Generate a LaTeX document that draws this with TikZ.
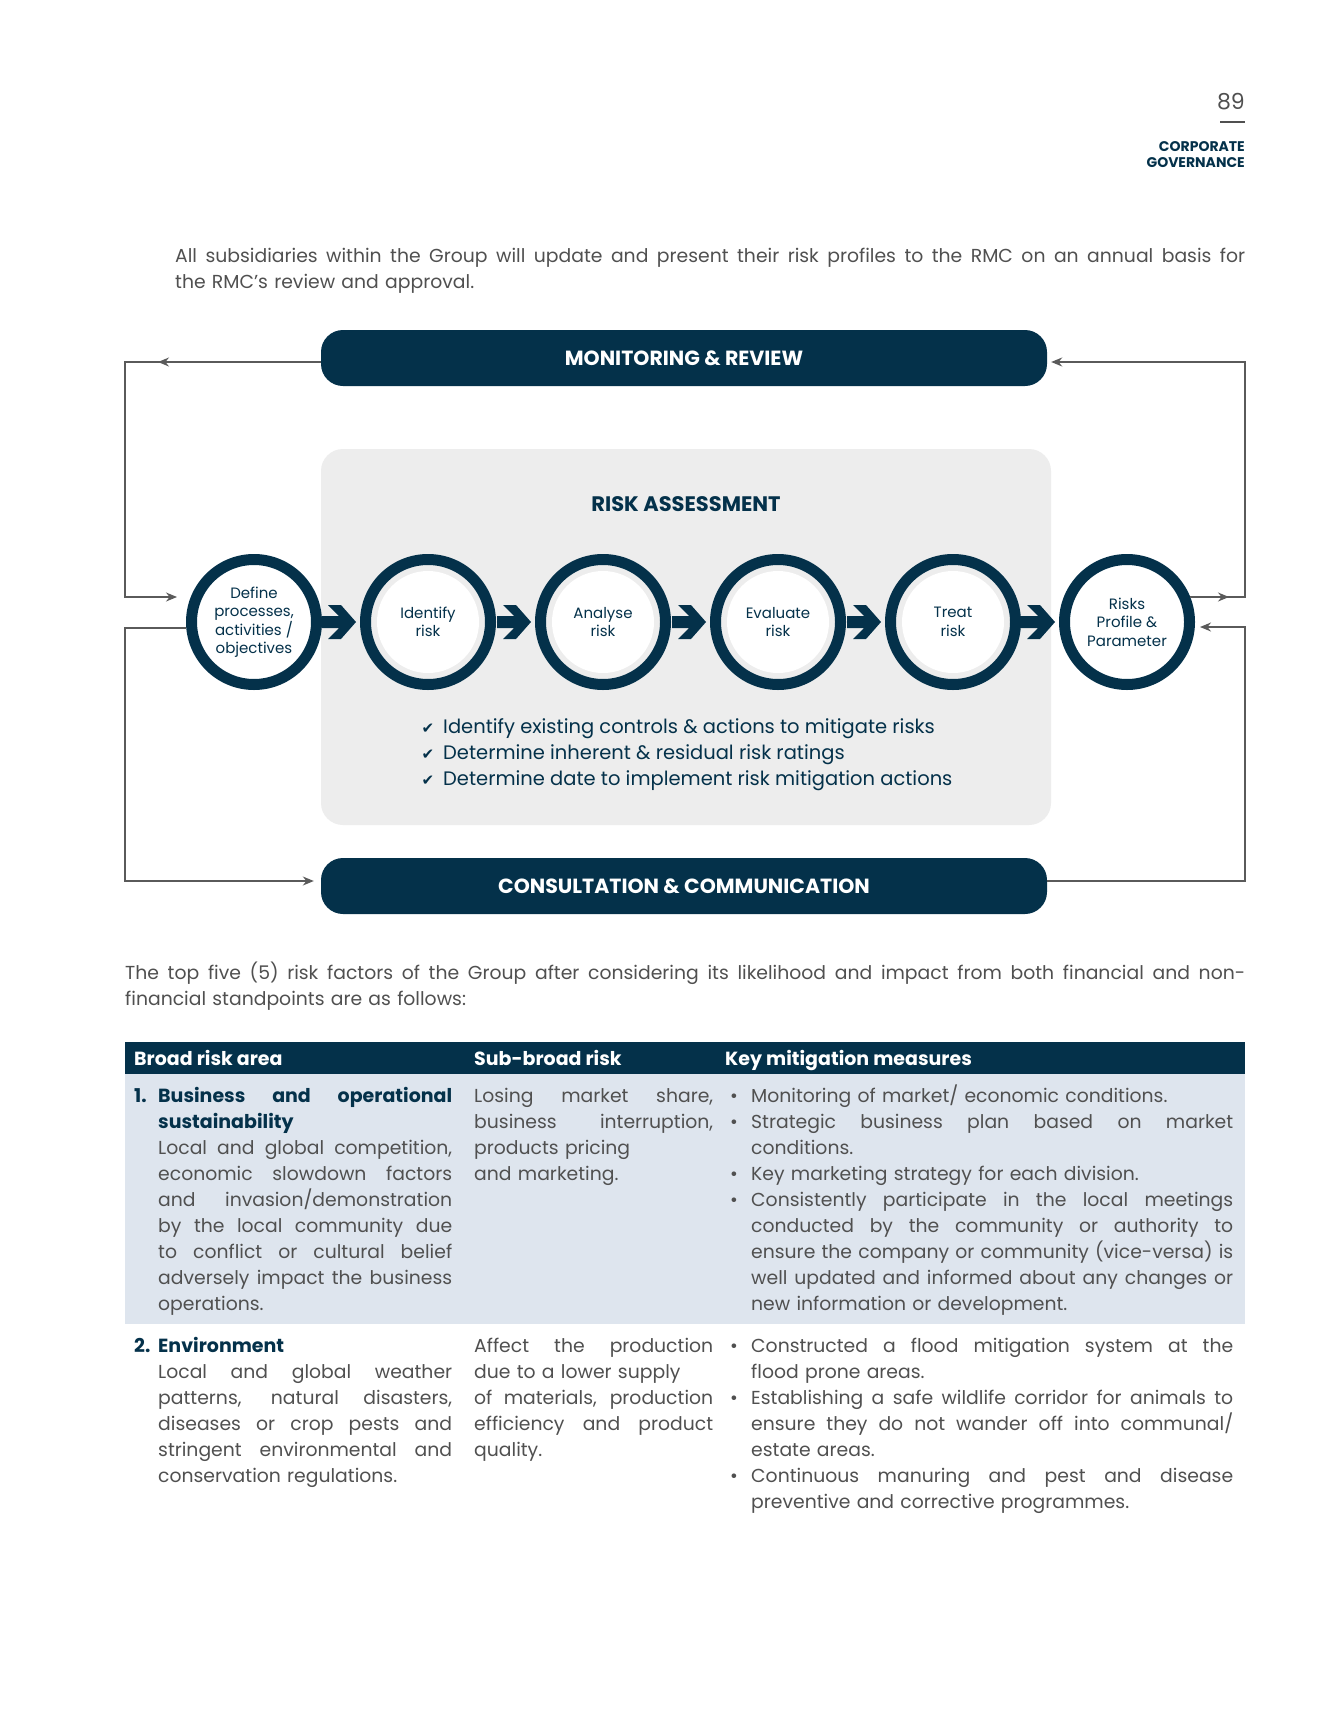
\documentclass[tikz,border=0pt]{standalone}
\usepackage{fontspec}
\setmainfont{Poppins}
\newfontfamily\symf{DejaVu Sans}
\usetikzlibrary{arrows.meta,calc}
\definecolor{navy}{HTML}{04314A}
\definecolor{txt}{HTML}{505050}
\definecolor{boxgray}{HTML}{EDEDED}
\definecolor{rowblue}{HTML}{DEE5EE}
\definecolor{fbgray}{HTML}{5A5A5A}
\newcommand\JJ[2]{\leavevmode\hbox to #1{\spaceskip=\fontdimen2\font plus 1fil minus .5\fontdimen2\font\relax #2}}
\newcommand\fs[2]{\fontsize{#1}{#2}\selectfont}
\tikzset{
  pillbar/.style={fill=navy, rounded corners=22pt, minimum width=726pt, minimum height=56pt, text=white, font=\fs{20.5}{22}\bfseries, inner sep=0pt},
  stepcirc/.style={circle, draw=navy, line width=11pt, minimum size=125pt, inner sep=0pt, fill=white, text=navy, align=center, font=\fs{15}{18.5}},
  innercirc/.style={stepcirc, fill=boxgray, path picture={\fill[white] (path picture bounding box.center) circle[radius=51pt];}},
  fbline/.style={draw=fbgray, line width=1.3pt},
  fbarrow/.style={-{Stealth[length=11pt,width=9pt]}},
  tcell/.style={anchor=base west, inner sep=0pt, align=left, text=txt, font=\fs{18.8}{26.1}},
  hcell/.style={anchor=base west, inner sep=0pt, text=white, font=\fs{19}{20}\bfseries},
  pics/chev/.style={code={\fill[navy] (0,0) -- (-15,-17) -- (-28,-17) -- (-17,-6) -- (-34,-6) -- (-34,6) -- (-17,6) -- (-28,17) -- (-15,17) -- cycle;}}
}
\begin{document}
\begin{tikzpicture}[x=1pt,y=-1pt]
\useasboundingbox (0,0) rectangle (1337,1734);
\fill[white] (0,0) rectangle (1337,1734);

% page header
\node[anchor=base east, inner sep=0pt, text=txt, font=\fs{22}{24}] (pgnum) at (1245,110) {89};
\draw[txt, line width=2pt] (1220,122) -- (1245,122);
\node[anchor=base east, inner sep=0pt, align=right, text=navy, font=\fs{14}{15.5}\bfseries] (sect) at (1245,167) {CORPORATE\\GOVERNANCE};

% intro
\node[tcell, text width=1070pt] (intro) at (175,262) {\JJ{1070pt}{All subsidiaries within the Group will update and present their risk profiles to the RMC on an annual basis for}\\the RMC’s review and approval.};

% risk assessment box
\node[fill=boxgray, rounded corners=22pt, minimum width=730pt, minimum height=376pt, inner sep=0pt] (ra) at (686,637) {};
\node[text=navy, font=\fs{21}{22}\bfseries, inner sep=0pt] (ratitle) at (686,504) {RISK ASSESSMENT};

% bars
\node[pillbar] (mon) at (684,358) {MONITORING \& REVIEW};
\node[pillbar] (cons) at (684,886) {CONSULTATION \& COMMUNICATION};

% circles
\node[stepcirc] (c1) at (254,622) {Define\\processes,\\activities /\\objectives};
\node[innercirc] (c2) at (428,622) {Identify\\risk};
\node[innercirc] (c3) at (603,622) {Analyse\\risk};
\node[innercirc] (c4) at (778,622) {Evaluate\\risk};
\node[innercirc] (c5) at (953,622) {Treat\\risk};
\node[stepcirc] (c6) at (1127,622) {Risks\\Profile \&\\Parameter};
\foreach \b in {c2,c3,c4,c5,c6} \pic at ($(\b.west)+(-4,0)$) {chev};

% checklist
\foreach \n/\yy/\t in {k1/733/{Identify existing controls \& actions to mitigate risks},k2/759/{Determine inherent \& residual risk ratings},k3/785/{Determine date to implement risk mitigation actions}}{
  \node[anchor=base west, inner sep=0pt, text=navy, font=\fs{19.5}{22}] (\n) at (443,\yy) {\t};
  \node[anchor=base, inner sep=0pt, text=navy, font=\symf\fs{15}{16}] (\n-chk) at (428,\yy) {✔};
}

% feedback connectors
\coordinate (ms) at ($(mon.west)+(0,4)$);
\coordinate (me) at ($(mon.east)+(0,4)$);
\coordinate (cs) at ($(cons.west)+(0,-5)$);
\coordinate (ce) at ($(cons.east)+(0,-5)$);
\coordinate (lt) at (125,362);
\coordinate (lm) at (125,597);
\coordinate (lin) at (177,597);
\coordinate (lmid) at (158,362);
\coordinate (lo) at ($(c1.center)+(-68,6)$);
\coordinate (lo2) at (125,628);
\coordinate (lb) at (125,881);
\draw[fbline, fbarrow] (ms) -- (lt) -- (lm) -- (lin);
\draw[fbline, fbarrow] (ms) -- (lmid);
\draw[fbline, fbarrow, shorten >=7pt] (lo) -- (lo2) -- (lb) -- (cs);

\coordinate (ro) at ($(c6.center)+(63,-25)$);
\coordinate (rm) at (1245,597);
\coordinate (rt) at (1245,362);
\coordinate (rmid) at (1229,597);
\coordinate (rb) at (1245,881);
\coordinate (rm2) at (1245,627);
\coordinate (rin) at ($(c6.center)+(73,5)$);
\draw[fbline, fbarrow, shorten >=4pt] (ro) -- (rm) -- (rt) -- (me);
\draw[fbline, fbarrow] (ro) -- (rmid);
\draw[fbline, fbarrow] (ce) -- (rb) -- (rm2) -- (rin);

% paragraph before table
\node[tcell, text width=1120pt] (topfive) at (125,979) {\JJ{1120pt}{The top five (5) risk factors of the Group after considering its likelihood and impact from both financial and non-}\\financial standpoints are as follows:};

% table
\node[fill=navy, anchor=north west, minimum width=1120pt, minimum height=32pt, inner sep=0pt] (thead) at (125,1042) {};
\node[hcell] (h1) at (134,1065) {Broad risk area};
\node[hcell] (h2) at (474,1065) {Sub-broad risk};
\node[hcell] (h3) at (725,1065) {Key mitigation measures};
\node[fill=rowblue, anchor=north west, minimum width=1120pt, minimum height=250pt, inner sep=0pt] (row1) at (125,1074) {};

% row 1
\node[tcell, text=navy, font=\fs{19}{26.1}\bfseries] (n1) at (134,1102) {1.};
\node[tcell, text width=294pt] (r1a) at (158,1102) {\textcolor{navy}{\fs{19}{26.1}\bfseries\JJ{294pt}{Business and operational}}\\
\textcolor{navy}{\fs{19}{26.1}\bfseries sustainability}\\
\JJ{294pt}{Local and global competition,}\\
\JJ{294pt}{economic slowdown factors}\\
\JJ{294pt}{and invasion/demonstration}\\
\JJ{294pt}{by the local community due}\\
\JJ{294pt}{to conflict or cultural belief}\\
\JJ{294pt}{adversely impact the business}\\
operations.};
\node[tcell, text width=239pt] (r1b) at (474,1102) {\JJ{239pt}{Losing market share,}\\
\JJ{239pt}{business interruption,}\\
products pricing\\
and marketing.};
\foreach \yy [count=\i] in {1102,1128.1,1180.3,1206.4} \node[tcell] (b1-\i) at (730,\yy) {•};
\node[tcell, text width=482pt] (r1c) at (751,1102) {Monitoring of market/ economic conditions.\\
\JJ{482pt}{Strategic business plan based on market}\\
conditions.\\
Key marketing strategy for each division.\\
\JJ{482pt}{Consistently participate in the local meetings}\\
\JJ{482pt}{conducted by the community or authority to}\\
\JJ{482pt}{ensure the company or community (vice-versa) is}\\
\JJ{482pt}{well updated and informed about any changes or}\\
new information or development.};

% row 2
\node[tcell, text=navy, font=\fs{19}{26.1}\bfseries] (n2) at (134,1352) {2.};
\node[tcell, text width=294pt] (r2a) at (158,1352) {\textcolor{navy}{\fs{19}{26.1}\bfseries Environment}\\
\JJ{294pt}{Local and global weather}\\
\JJ{294pt}{patterns, natural disasters,}\\
\JJ{294pt}{diseases or crop pests and}\\
\JJ{294pt}{stringent environmental and}\\
conservation regulations.};
\node[tcell, text width=239pt] (r2b) at (474,1352) {\JJ{239pt}{Affect the production}\\
due to a lower supply\\
\JJ{239pt}{of materials, production}\\
\JJ{239pt}{efficiency and product}\\
quality.};
\foreach \yy [count=\i] in {1352,1404.2,1482.5} \node[tcell] (b2-\i) at (730,\yy) {•};
\node[tcell, text width=482pt] (r2c) at (751,1352) {\JJ{482pt}{Constructed a flood mitigation system at the}\\
flood prone areas.\\
\JJ{482pt}{Establishing a safe wildlife corridor for animals to}\\
\JJ{482pt}{ensure they do not wander off into communal/}\\
estate areas.\\
\JJ{482pt}{Continuous manuring and pest and disease}\\
preventive and corrective programmes.};
\end{tikzpicture}
\end{document}
